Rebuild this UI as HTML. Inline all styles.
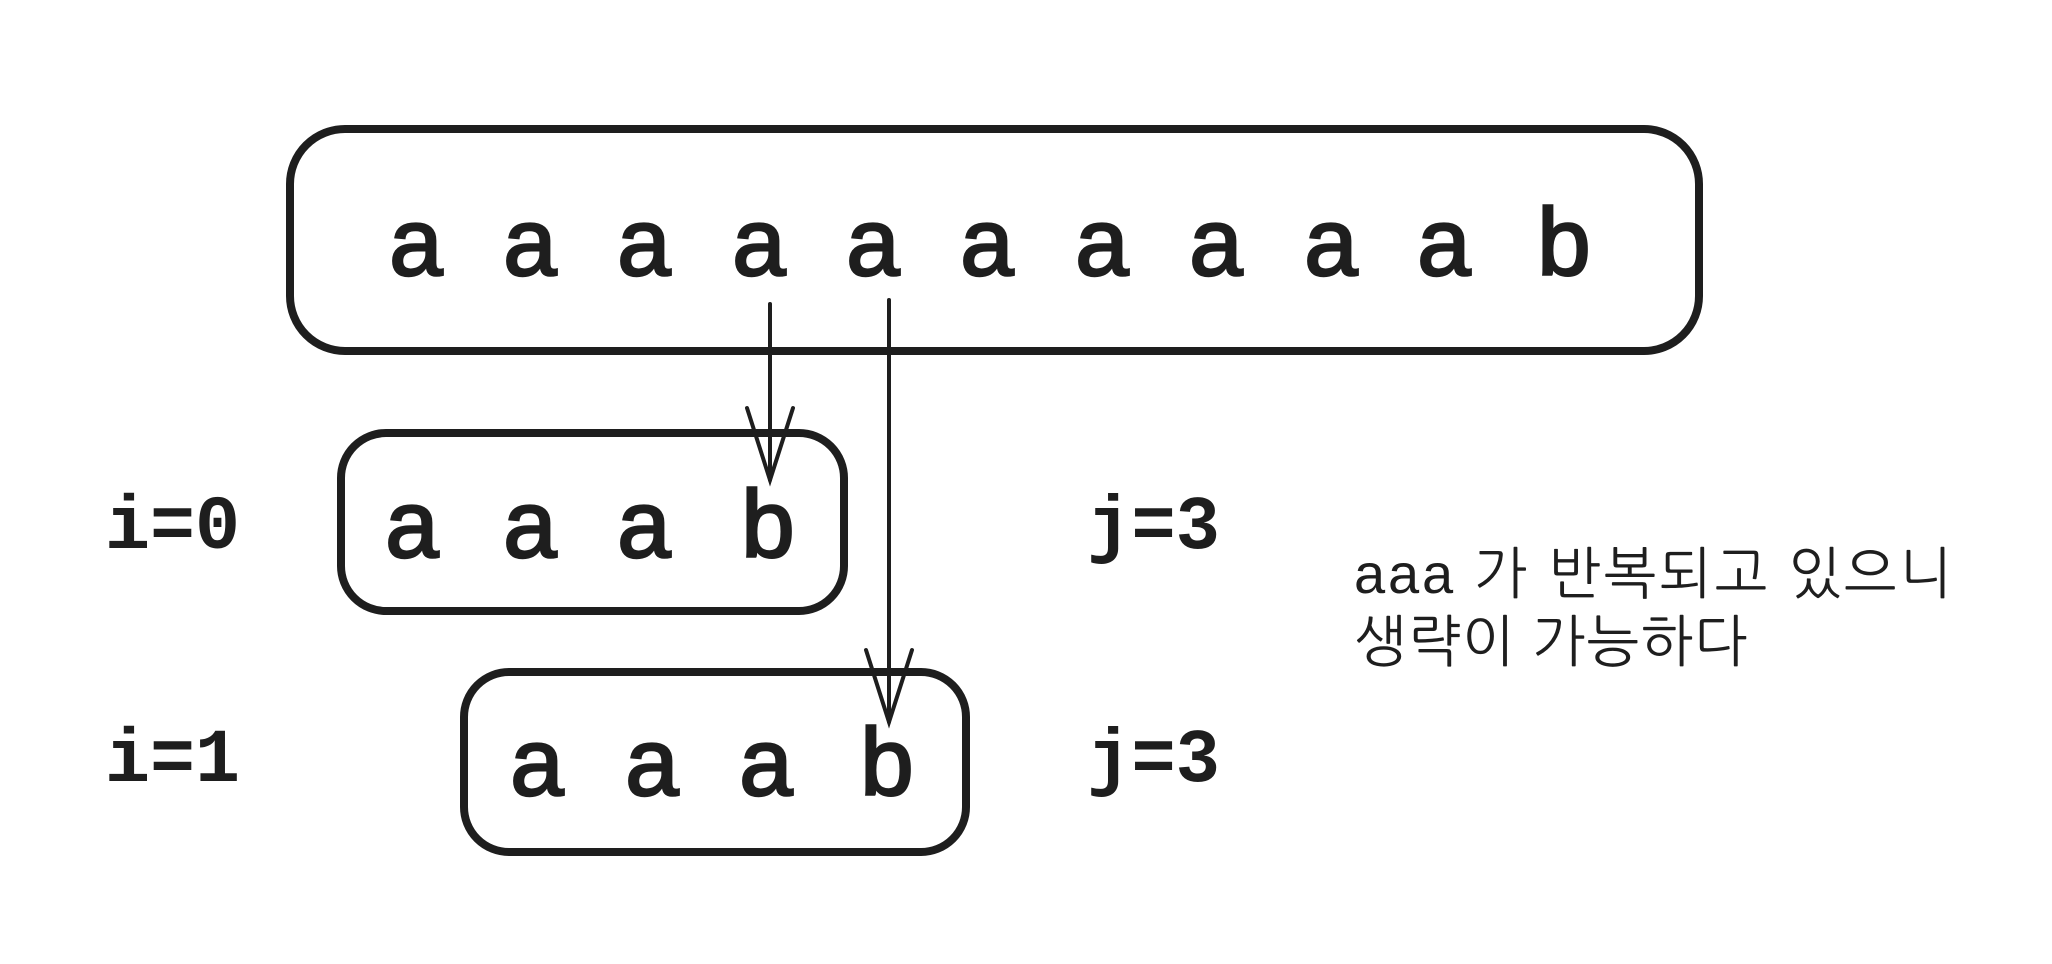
<!DOCTYPE html>
<html><head><meta charset="utf-8"><style>
html,body{margin:0;padding:0;background:#fff;}
svg{display:block}
.l{font-family:"Liberation Sans","DejaVu Sans",sans-serif;font-size:96px;fill:#1e1e1e;stroke:#1e1e1e;stroke-width:2.5;text-anchor:middle}
.m{font-family:"Liberation Mono","DejaVu Sans Mono",monospace;font-size:76px;font-weight:bold;fill:#1e1e1e}
.k{font-family:"Liberation Sans","NanumGothic","Noto Sans CJK KR",sans-serif;font-size:56px;fill:#1e1e1e}
</style></head><body>
<svg width="2052" height="964" viewBox="0 0 2052 964" xmlns="http://www.w3.org/2000/svg">
<g fill="none" stroke="#1e1e1e" stroke-width="8">
<rect x="290" y="129" width="1409" height="222" rx="55"/>
<rect x="341" y="433" width="503" height="178" rx="45"/>
<rect x="464" y="672" width="502" height="180" rx="45"/>
</g>
<g stroke="#1e1e1e" stroke-width="4" fill="none" stroke-linecap="round">
<line x1="770" y1="304" x2="770" y2="480"/>
<polyline points="747,408 770,480 793,408"/>
<line x1="889" y1="300" x2="889" y2="722"/>
<polyline points="866,650 889,722 912,650"/>
</g>
<g class="l">
<text x="416" y="275">a</text><text x="530" y="275">a</text><text x="644" y="275">a</text><text x="759" y="275">a</text><text x="873" y="275">a</text><text x="987" y="275">a</text><text x="1102" y="275">a</text><text x="1216" y="275">a</text><text x="1331" y="275">a</text><text x="1444" y="275">a</text><text x="1564" y="275">b</text>
<text x="412" y="557">a</text><text x="530" y="557">a</text><text x="644" y="557">a</text><text x="768" y="557">b</text>
<text x="537" y="795">a</text><text x="652" y="795">a</text><text x="766" y="795">a</text><text x="887" y="795">b</text>
</g>
<g class="m">
<text x="105" y="548" textLength="135" lengthAdjust="spacingAndGlyphs">i=0</text>
<text x="105" y="781" textLength="135" lengthAdjust="spacingAndGlyphs">i=1</text>
<text x="1087" y="548" textLength="133" lengthAdjust="spacingAndGlyphs">j=3</text>
<text x="1087" y="781" textLength="133" lengthAdjust="spacingAndGlyphs">j=3</text>
</g>
<text class="k" x="1354" y="593" textLength="598" lengthAdjust="spacing">aaa 가 반복되고 있으니</text>
<text class="k" x="1354" y="661" textLength="393" lengthAdjust="spacing">생략이 가능하다</text>
</svg>
</body></html>
